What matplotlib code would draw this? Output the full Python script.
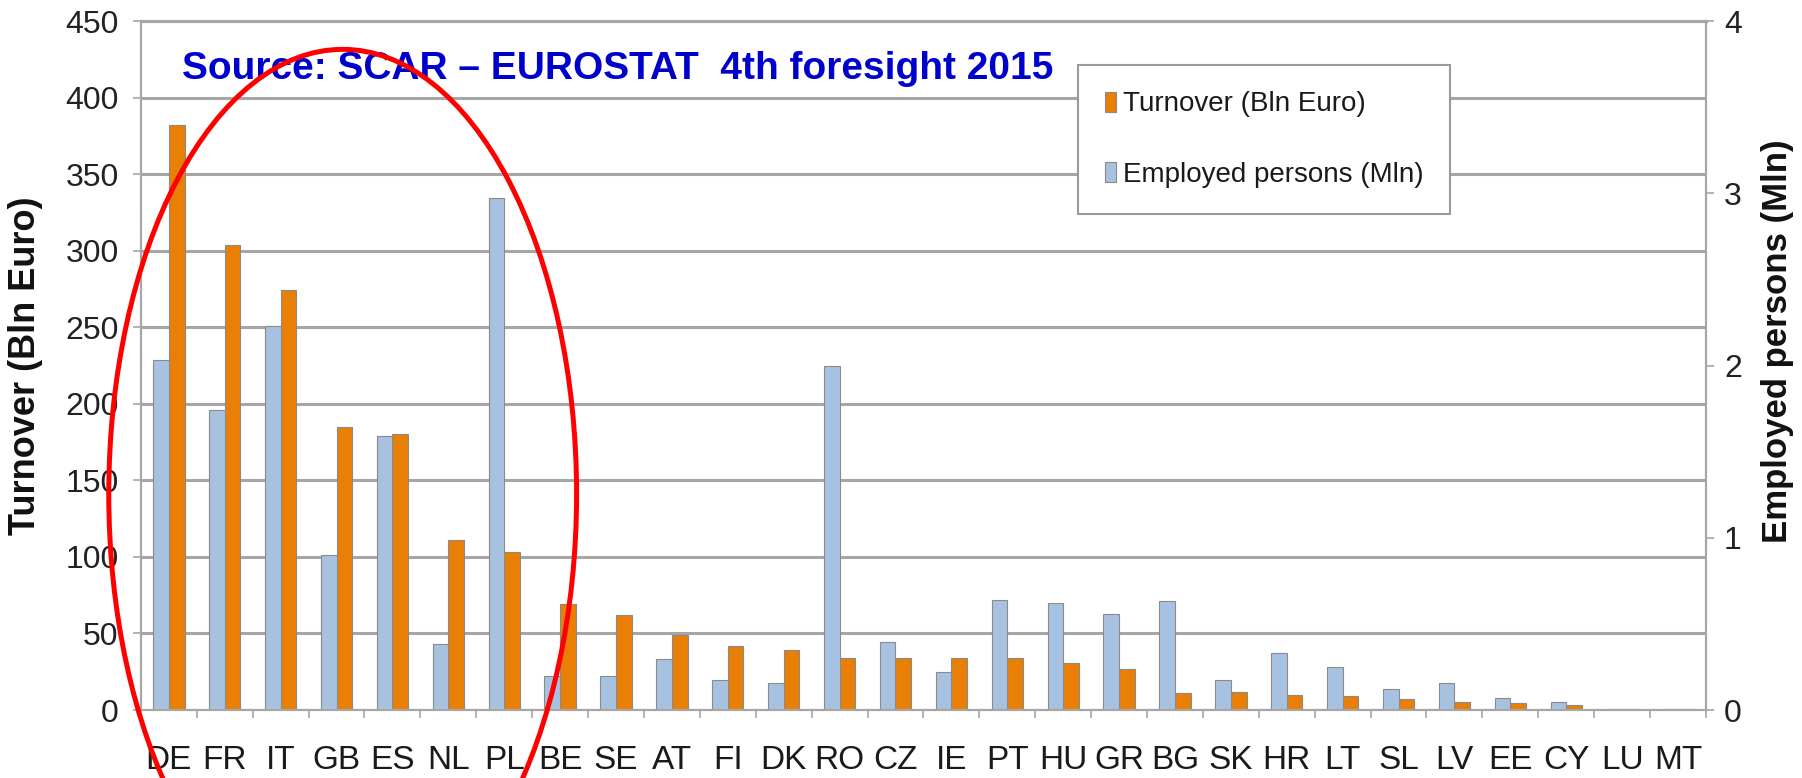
import numpy as np
import matplotlib
matplotlib.use("Agg")
import matplotlib.pyplot as plt
from matplotlib.patches import Ellipse

countries = ['DE', 'FR', 'IT', 'GB', 'ES', 'NL', 'PL', 'BE', 'SE', 'AT',
             'FI', 'DK', 'RO', 'CZ', 'IE', 'PT', 'HU', 'GR', 'BG', 'SK',
             'HR', 'LT', 'SL', 'LV', 'EE', 'CY', 'LU', 'MT']
turnover = [382, 304, 274, 185, 180, 111, 103, 69, 62, 49,
            42, 39, 34, 34, 34, 34, 31, 27, 11, 12,
            10, 9, 7, 5.5, 4.3, 3.4, 0.5, 0.4]
employed = [2.03, 1.74, 2.23, 0.90, 1.59, 0.385, 2.97, 0.20, 0.20, 0.295,
            0.175, 0.156, 2.0, 0.396, 0.22, 0.64, 0.62, 0.56, 0.63, 0.175,
            0.33, 0.25, 0.124, 0.156, 0.07, 0.047, 0.005, 0.004]
left_ticks = list(range(0, 451, 50))
right_ticks = [0, 1, 2, 3, 4]

FONT = ['Liberation Sans', 'DejaVu Sans']
GRID = '#a6a6a6'
BLUE = '#a7c2e0'
ORANGE = '#e97f05'


def main():
    plt.rcParams['font.family'] = FONT
    fig = plt.figure(figsize=(18.02, 7.78), dpi=100)
    ax = fig.add_axes([0.0782, 0.0874, 0.8685, 0.8856])
    ax2 = ax.twinx()

    x = np.arange(len(countries))
    w = 0.28
    ax.bar(x + w / 2, turnover, w, color=ORANGE, edgecolor='#8a8a8a',
           linewidth=0.8, label='Turnover (Bln Euro)', zorder=2)
    ax2.bar(x - w / 2, employed, w, color=BLUE, edgecolor='#8a8a8a',
            linewidth=0.8, label='Employed persons (Mln)', zorder=2)

    ax.set_xlim(-0.5, len(countries) - 0.5)
    ax.set_ylim(0, 450)
    ax2.set_ylim(0, 4)
    ax.set_yticks(left_ticks)
    ax2.set_yticks(right_ticks)
    ax.set_xticks(x)
    ax.set_xticklabels(countries)
    ax.set_xticks(np.arange(len(countries) + 1) - 0.5, minor=True)

    ax.set_axisbelow(True)
    ax.yaxis.grid(True, color=GRID, linewidth=2.2)
    ax.tick_params(axis='x', which='major', length=0, pad=25, labelsize=24,
                   labelcolor='#1a1a1a')
    ax.tick_params(axis='x', which='minor', length=6, width=1.2, color=GRID)
    ax.tick_params(axis='y', length=6, width=1.2, color=GRID, pad=10,
                   labelsize=23, labelcolor='#222222')
    ax2.tick_params(axis='y', length=6, width=1.2, color=GRID, pad=7,
                    labelsize=23, labelcolor='#222222')
    for a in (ax, ax2):
        for s in a.spines.values():
            s.set_color(GRID)
            s.set_linewidth(1.5)
        a.spines['top'].set_linewidth(2.2)

    ax.set_ylabel('Turnover (Bln Euro)', fontsize=26, fontweight='bold',
                  va='center', color='#111111')
    ax.yaxis.set_label_coords(-0.0735, 0.5)
    ax2.set_ylabel('Employed persons (Mln)', fontsize=25, fontweight='bold',
                   va='center', rotation=90, color='#111111')
    ax2.yaxis.set_label_coords(1.0454, 0.535)

    h1, l1 = ax.get_legend_handles_labels()
    h2, l2 = ax2.get_legend_handles_labels()
    leg = ax2.legend(h1 + h2, l1 + l2, loc='upper left',
                     bbox_to_anchor=(0.599, 0.936), borderaxespad=0,
                     fontsize=20, handlelength=0.4, handleheight=0.75,
                     handletextpad=0.25, labelspacing=1.6, borderpad=0.95,
                     fancybox=False, framealpha=1, edgecolor='#9a9a9a')
    leg.get_frame().set_linewidth(1.5)
    for t in leg.get_texts():
        t.set_color('#1a1a1a')

    ax2.text(0.026, 0.93, 'Source: SCAR \u2013 EUROSTAT  4th foresight 2015',
             transform=ax2.transAxes, fontsize=28, fontweight='bold',
             color='#0000cc', va='center', ha='left', zorder=5)

    ring = Ellipse((3.11, 141), 8.37, 581, fill=False, edgecolor='#ff0000',
                   linewidth=3.6, transform=ax.transData, clip_on=False,
                   zorder=10)
    ax2.add_patch(ring)

    fig.savefig('out.png', dpi=100)
    return 0


if __name__ == "__main__":
    main()
